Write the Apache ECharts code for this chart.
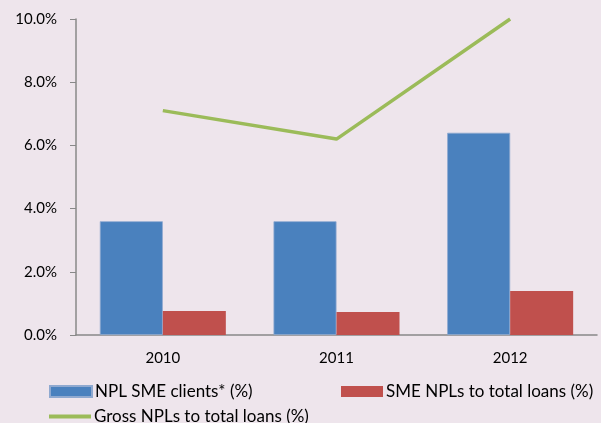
<!DOCTYPE html>
<html><head><meta charset="utf-8">
<script src="https://cdn.jsdelivr.net/npm/echarts@6/dist/echarts.min.js"></script>
<style>html,body{margin:0;padding:0;background:#EEE5EC;}#c{width:601px;height:423px;}</style>
</head><body><div id="c"></div>
<script>
const categories = ['2010', '2011', '2012'];
const nplSmeClients = [3.6, 3.6, 6.4];
const smeNplsToTotal = [0.76, 0.73, 1.39];
const grossNplsToTotal = [7.1, 6.2, 10.0];
const seriesNames = ['NPL SME clients* (%)', 'SME NPLs to total loans (%)', 'Gross NPLs to total loans (%)'];

const chart = echarts.init(document.getElementById('c'), null, {renderer: 'canvas'});
const font = 'Lato';
const legendBase = {
  orient: 'horizontal', itemWidth: 42, itemHeight: 11, itemGap: 10, padding: 0,
  textStyle: {fontFamily: font, fontSize: 17, color: '#000', padding: [0, 0, 0, -2]},
  selectedMode: false
};
chart.setOption({
  backgroundColor: '#EEE5EC',
  animation: false,
  grid: {left: 76, right: 4, top: 19, bottom: 88, containLabel: false},
  legend: [
    Object.assign({}, legendBase, {left: 49, top: 383, data: [{name: seriesNames[0], icon: 'rect'}]}),
    Object.assign({}, legendBase, {left: 341, top: 383, data: [{name: seriesNames[1], icon: 'rect'}]}),
    Object.assign({}, legendBase, {left: 49, top: 408, itemHeight: 4, data: [{name: seriesNames[2], icon: 'rect'}]})
  ],
  xAxis: {
    type: 'category', data: categories,
    axisLine: {lineStyle: {color: '#888', width: 1.5}},
    axisTick: {show: false},
    axisLabel: {fontFamily: font, fontSize: 15, color: '#000', margin: 16}
  },
  yAxis: {
    type: 'value', min: 0, max: 10, interval: 2,
    axisLine: {show: true, lineStyle: {color: '#888', width: 1.5}},
    axisTick: {show: true, length: 6, lineStyle: {color: '#888'}},
    splitLine: {show: false},
    axisLabel: {fontFamily: font, fontSize: 15, color: '#000', margin: 19,
      formatter: v => v.toFixed(1) + '%'}
  },
  series: [
    {name: seriesNames[0], type: 'bar', data: nplSmeClients, barWidth: 63, barGap: '0%',
      itemStyle: {color: '#4A81BE', borderColor: '#8FA9D0', borderWidth: 0.8}},
    {name: seriesNames[1], type: 'bar', data: smeNplsToTotal, barWidth: 63, barGap: '0%',
      itemStyle: {color: '#C0504D'}},
    {name: seriesNames[2], type: 'line', data: grossNplsToTotal, symbol: 'none', showSymbol: false,
      lineStyle: {color: '#9BBB59', width: 3.5}, itemStyle: {color: '#9BBB59'}}
  ]
});
</script></body></html>
